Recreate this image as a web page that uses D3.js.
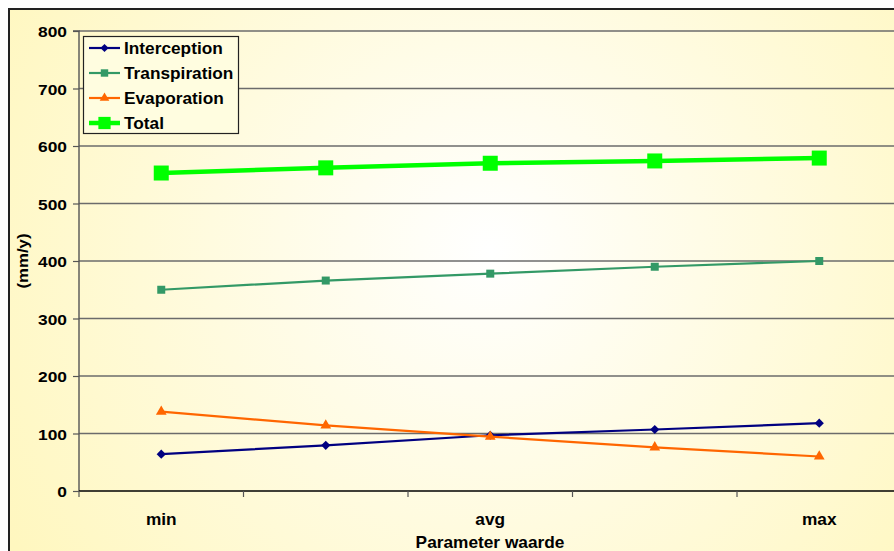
<!DOCTYPE html>
<html><head><meta charset="utf-8">
<script src="https://cdn.jsdelivr.net/npm/d3@7"></script>
<style>html,body{margin:0;padding:0;background:#fff;overflow:hidden}</style>
</head><body>
<svg id="c" width="894" height="551"></svg>
<script>
const categories = ["min", "", "avg", "", "max"];
const interception = [64, 79.5, 97, 107, 118];
const transpiration = [350, 366, 378, 390, 400];
const evaporation = [138, 114, 94.5, 76, 60];
const total = [553, 562, 570, 574, 579];
const yTicks = [0, 100, 200, 300, 400, 500, 600, 700, 800];
const seriesNames = ["Interception", "Transpiration", "Evaporation", "Total"];

const FONT = "Liberation Sans, Arial, sans-serif";
const svg = d3.select("#c");
const defs = svg.append("defs");
const grad = defs.append("radialGradient").attr("id","bg")
  .attr("gradientUnits","userSpaceOnUse").attr("cx",490).attr("cy",250).attr("r",560);
grad.append("stop").attr("offset","0").attr("stop-color","#ffffff");
grad.append("stop").attr("offset","1").attr("stop-color","#fff7bf");

svg.append("rect").attr("x",9).attr("y",9).attr("width",900).attr("height",560)
  .attr("fill","url(#bg)").attr("stroke","#222").attr("stroke-width",2);

const x0 = 79, bandW = 164.5;
const x = d3.scaleBand().domain(d3.range(categories.length)).range([x0, x0 + bandW*categories.length]);
const y = d3.scaleLinear().domain([0,800]).range([491,31]);

function label(g, tx, ty, str, size, anchor, rot, sx) {
  return g.append("text")
    .attr("transform", `translate(${tx},${ty})` + (rot ? ` rotate(${rot})` : "") + ` scale(${sx||1.12},1)`)
    .attr("text-anchor", anchor || "start")
    .attr("font-family", FONT).attr("font-weight","bold").attr("font-size", size).attr("fill","#000")
    .text(str);
}

// gridlines
svg.append("g").selectAll("line").data(yTicks.filter(d=>d>0)).join("line")
  .attr("x1",x0).attr("x2",894).attr("y1",d=>y(d)).attr("y2",d=>y(d))
  .attr("stroke","#6b6b6b").attr("stroke-width",1.4);

// y axis
const yAxis = d3.axisLeft(y).tickValues(yTicks).tickSize(6).tickPadding(5);
const gy = svg.append("g").attr("transform",`translate(${x0},0)`).call(yAxis);
gy.select(".domain").attr("stroke","#555").attr("stroke-width",1.4).attr("d",`M-6,${y(800)}H0V${y(0)}`);
gy.selectAll(".tick line").attr("stroke","#555").attr("stroke-width",1.2);
gy.selectAll(".tick text").remove();
gy.selectAll(".tick").each(function(d){ label(d3.select(this), -12, 5.5, d, 15.5, "end"); });

// x axis
const xb = d3.scaleLinear().domain([0,categories.length]).range([x0, x0+bandW*categories.length]);
const gx = svg.append("g").attr("transform",`translate(0,${y(0)})`);
gx.append("line").attr("x1",x0).attr("x2",894).attr("stroke","#000").attr("stroke-width",1.5);
gx.selectAll("line.t").data(d3.range(categories.length+1)).join("line").attr("class","t")
  .attr("x1",d=>xb(d)).attr("x2",d=>xb(d)).attr("y1",0).attr("y2",6)
  .attr("stroke","#555").attr("stroke-width",1.2);
categories.forEach((c,i)=>{ if (c) label(gx, x(i)+x.bandwidth()/2, 34, c, 16, "middle", 0, 1.08); });

// axis titles
label(svg, 490, 548, "Parameter waarde", 16, "middle", 0, 1.08);
label(svg, 28, 261, "(mm/y)", 15, "middle", -90);

const cx = i => x(i) + x.bandwidth()/2;
const diamond = { draw(ctx, size){ const r = Math.sqrt(size)/2*1.3; ctx.moveTo(0,-r); ctx.lineTo(r,0); ctx.lineTo(0,r); ctx.lineTo(-r,0); ctx.closePath(); } };
const series = [
  {name:seriesNames[0], data:interception, color:"#000080", w:2.2, marker:diamond, size:50},
  {name:seriesNames[1], data:transpiration, color:"#339966", w:2.2, marker:d3.symbolSquare, size:64},
  {name:seriesNames[2], data:evaporation, color:"#ff6600", w:2.2, marker:d3.symbolTriangle, size:50},
  {name:seriesNames[3], data:total, color:"#00ff00", w:4.5, marker:d3.symbolSquare, size:225},
];
const line = d3.line().x((d,i)=>cx(i)).y(d=>y(d));
series.forEach(s=>{
  svg.append("path").attr("d",line(s.data)).attr("fill","none").attr("stroke",s.color).attr("stroke-width",s.w);
  svg.append("g").selectAll("path").data(s.data).join("path")
    .attr("transform",(d,i)=>`translate(${cx(i)},${y(d)})`)
    .attr("d",d3.symbol().type(s.marker).size(s.size)).attr("fill",s.color);
});

// legend
const lg = svg.append("g");
lg.append("rect").attr("x",83.5).attr("y",36.5).attr("width",155).attr("height",97)
  .attr("fill","#fffde0").attr("stroke","#222").attr("stroke-width",1.2);
const legSizes = [40, 55, 40, 150];
series.forEach((s,i)=>{
  const yy = 48 + i*25;
  lg.append("line").attr("x1",89).attr("x2",120).attr("y1",yy).attr("y2",yy)
    .attr("stroke",s.color).attr("stroke-width",s.w);
  lg.append("path").attr("transform",`translate(104.5,${yy})`)
    .attr("d",d3.symbol().type(s.marker).size(legSizes[i])).attr("fill",s.color);
  label(lg, 124, yy+6, s.name, 16.3, "start", 0, 1.06);
});
</script>
</body></html>
